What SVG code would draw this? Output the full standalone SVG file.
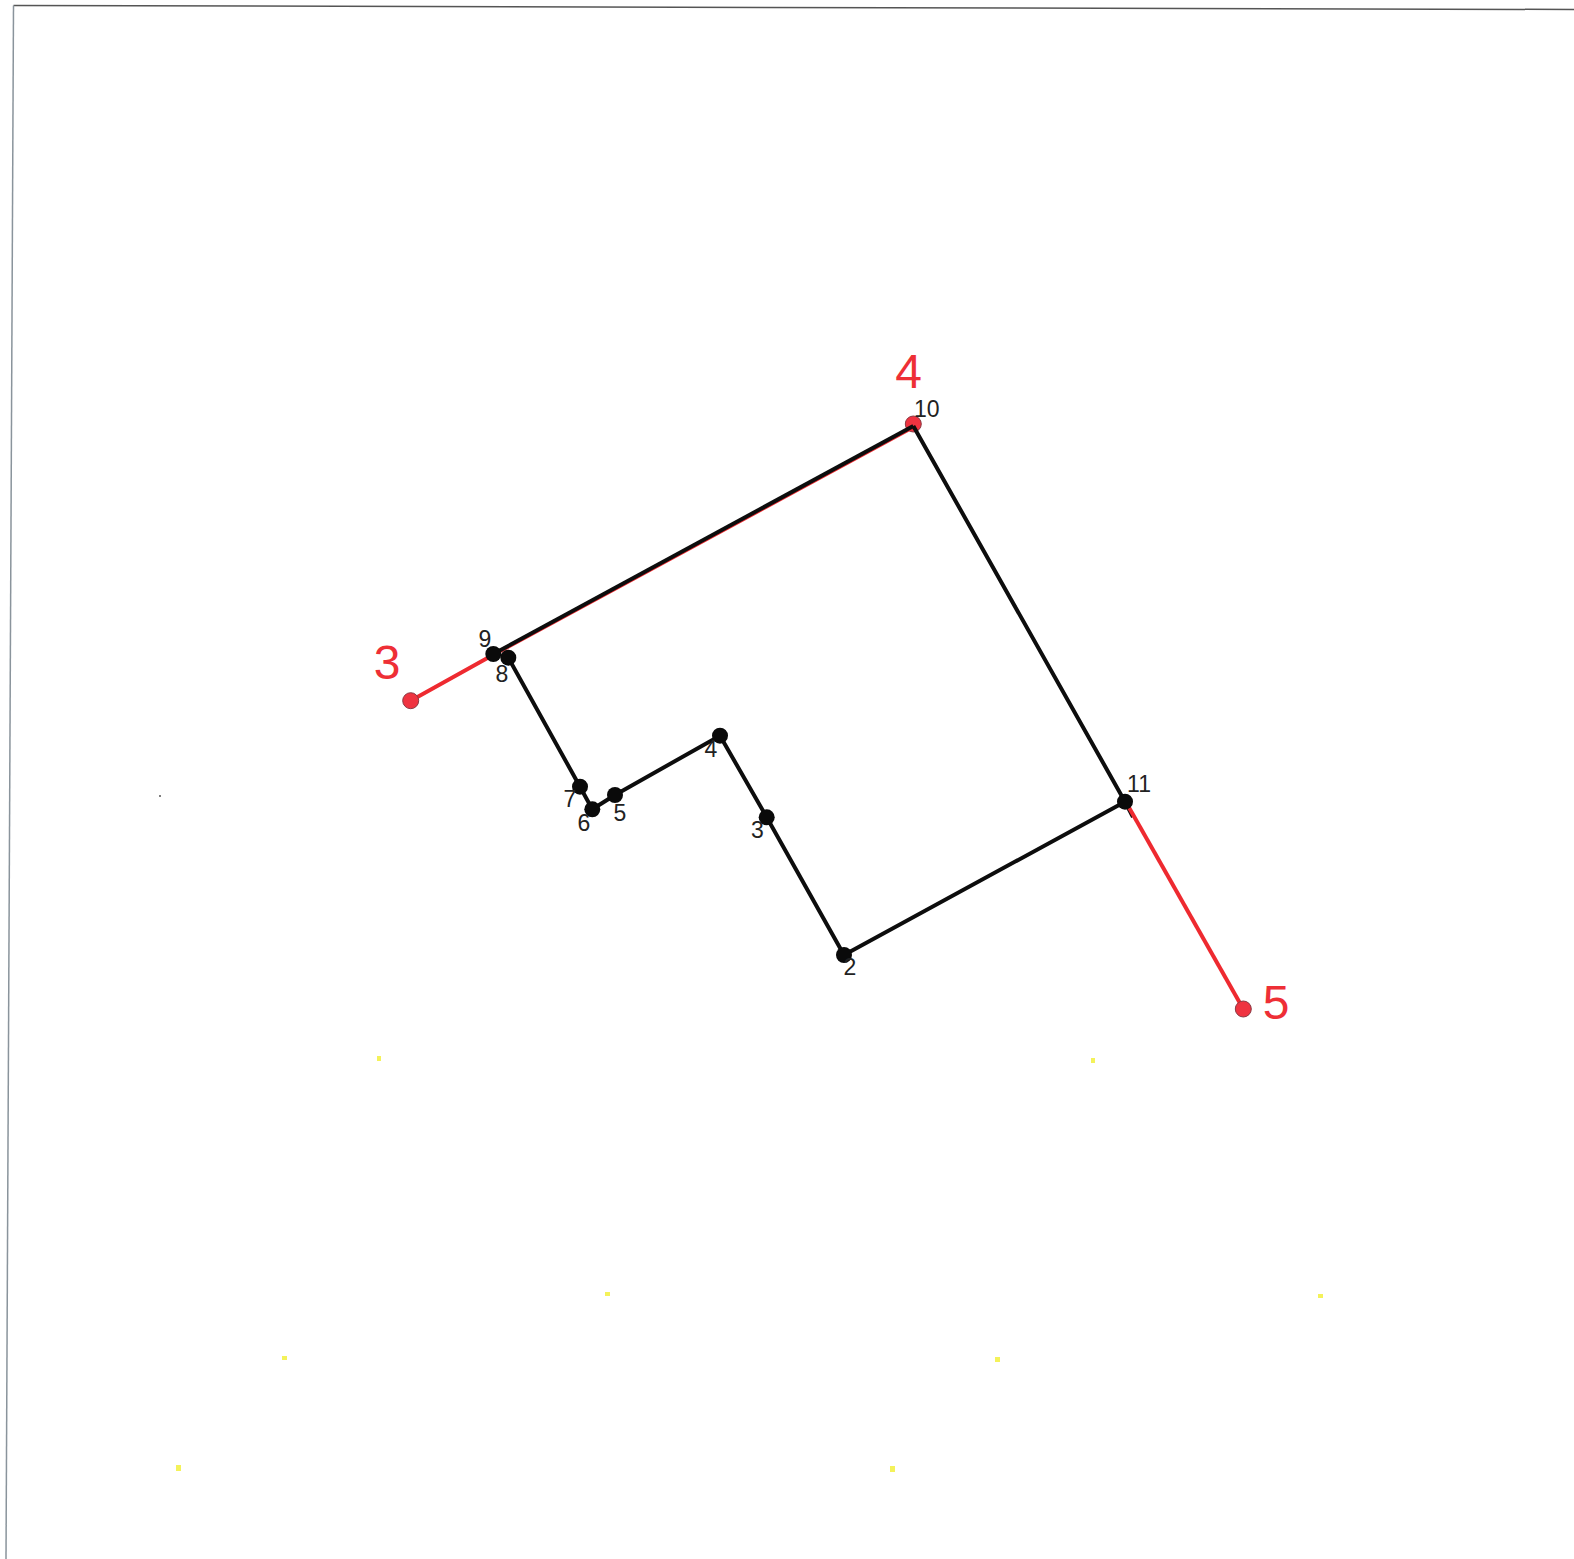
<svg xmlns="http://www.w3.org/2000/svg" width="1574" height="1559" viewBox="0 0 1574 1559">
<style>
.big{font-family:"Liberation Sans",Arial,sans-serif;font-size:48px;fill:#ee2f36;text-anchor:middle}
.small{font-family:"Liberation Sans",Arial,sans-serif;font-size:23px;fill:#222;text-anchor:middle}
.k{fill:#0a0a0a}
.r{fill:#ef3340;stroke:#8a3a44;stroke-width:1}
.edge{fill:none;stroke:#0d0d0d;stroke-width:4;stroke-linejoin:round}
.red{fill:none;stroke:#ee2a30;stroke-width:4}
.speck{fill:#f4f25a}
</style>
<rect width="1574" height="1559" fill="#fff"/>
<g id="frame" fill="none" stroke-width="1.5">
<path d="M13.500 5.500L1574 9.500" stroke="#555"/>
<path d="M13.500 5.500L6 1559" stroke="#8a949c"/>
</g>
<g id="specks">
<rect class="speck" x="377" y="1056" width="4" height="5"/>
<rect class="speck" x="1091" y="1058" width="4" height="5"/>
<rect class="speck" x="605" y="1292" width="5" height="4"/>
<rect class="speck" x="1318" y="1294" width="5" height="4"/>
<rect class="speck" x="282" y="1356" width="5" height="4"/>
<rect class="speck" x="995" y="1357" width="5" height="5"/>
<rect class="speck" x="176" y="1465" width="5" height="6"/>
<rect class="speck" x="890" y="1466" width="5" height="6"/>
<circle cx="160" cy="796" r="1" fill="#555"/>
</g>
<g id="n4r"><circle class="r" cx="913.300" cy="424" r="8"/><text class="big" x="908.500" y="388">4</text></g>
<g id="connectors">
<path class="red" d="M410.700 700.700L493.300 654.800L913.300 427"/>
<path class="edge" d="M913.300 426L1125 801.700L844 955L766.700 817.300L720 735.700L615 795L592.300 809.300L580 786.700L508.300 657.700"/>
<path class="edge" d="M493.300 654L913.300 426"/>
<path class="edge" d="M1125 801.700L1133 817"/>
<path class="red" d="M1127 804L1243.300 1009"/>
</g>
<g id="n3r"><circle class="r" cx="410.700" cy="700.700" r="8"/><text class="big" x="387" y="679">3</text></g>
<g id="n5r"><circle class="r" cx="1243.300" cy="1009" r="8"/><text class="big" x="1276" y="1019">5</text></g>
<g id="n2"><circle class="k" cx="844" cy="955" r="8"/><text class="small" x="850" y="975">2</text></g>
<g id="n3"><circle class="k" cx="766.700" cy="817.300" r="8"/><text class="small" x="757.300" y="838">3</text></g>
<g id="n4"><circle class="k" cx="720" cy="735.700" r="8"/><text class="small" x="711" y="756.700">4</text></g>
<g id="n5"><circle class="k" cx="615" cy="795" r="8"/><text class="small" x="620" y="820.700">5</text></g>
<g id="n6"><circle class="k" cx="592.300" cy="809.300" r="8"/><text class="small" x="584" y="830.700">6</text></g>
<g id="n7"><circle class="k" cx="580" cy="786.700" r="8"/><text class="small" x="570" y="807">7</text></g>
<g id="n8"><circle class="k" cx="508.300" cy="657.700" r="8"/><text class="small" x="502" y="682">8</text></g>
<g id="n9"><circle class="k" cx="493.300" cy="654" r="8"/><text class="small" x="485" y="646.700">9</text></g>
<g id="n10"><text class="small" x="926.700" y="417">10</text></g>
<g id="n11"><circle class="k" cx="1125" cy="801.700" r="8"/><text class="small" x="1139" y="791.700">11</text></g>
</svg>
